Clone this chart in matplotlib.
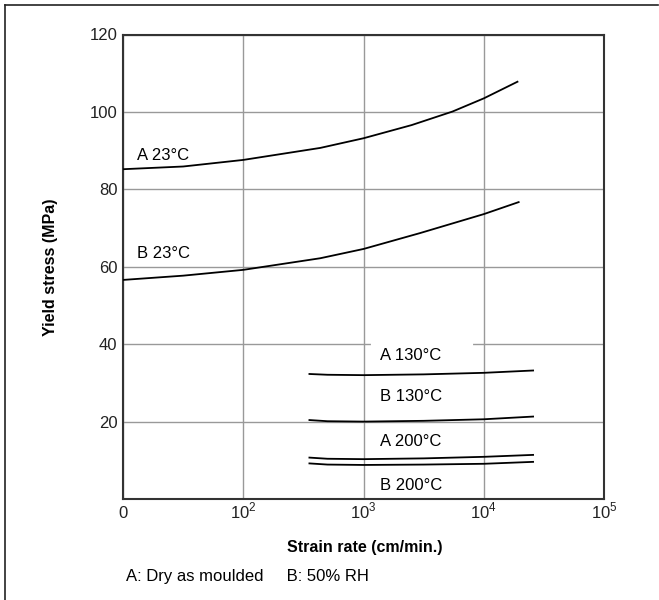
import matplotlib
matplotlib.use("Agg")
import matplotlib.pyplot as plt
from matplotlib.lines import Line2D

plt.rcParams['font.family'] = ['Liberation Sans', 'DejaVu Sans']
plt.rcParams['mathtext.fontset'] = 'custom'
plt.rcParams['mathtext.rm'] = 'Liberation Sans'

# x values are log10 of strain rate (the "0" tick sits at the 10^1 position)
x_a23 = [1.0, 1.5, 2.0, 2.64, 3.0, 3.4, 3.74, 4.0, 4.28]
a_23 = [85.2, 85.9, 87.6, 90.7, 93.2, 96.6, 100.1, 103.5, 107.8]
x_b23 = [1.0, 1.5, 2.0, 2.64, 3.0, 3.47, 4.0, 4.29]
b_23 = [56.6, 57.7, 59.2, 62.2, 64.6, 68.7, 73.6, 76.7]

x_hot = [2.55, 2.7, 3.0, 3.5, 4.0, 4.41]
a_130 = [32.3, 32.1, 32.0, 32.2, 32.6, 33.2]
b_130 = [20.4, 20.1, 20.0, 20.2, 20.6, 21.3]
a_200 = [10.7, 10.4, 10.3, 10.5, 10.9, 11.4]
b_200 = [9.2, 8.9, 8.8, 8.9, 9.1, 9.6]

x_ticks = [1, 2, 3, 4, 5]
x_tick_labels = ['0', '10$^{2}$', '10$^{3}$', '10$^{4}$', '10$^{5}$']
y_ticks = [20, 40, 60, 80, 100, 120]

fig = plt.figure(figsize=(6.59, 6), dpi=100)
ax = fig.add_axes([0.1867, 0.1683, 0.7299, 0.7742])

for xs, ys in [(x_a23, a_23), (x_b23, b_23), (x_hot, a_130),
               (x_hot, b_130), (x_hot, a_200), (x_hot, b_200)]:
    ax.plot(xs, ys, color='black', lw=1.3, zorder=3)

ax.set_xlim(1, 5)
ax.set_ylim(0, 120)
ax.set_xticks(x_ticks)
ax.set_xticklabels(x_tick_labels)
ax.set_yticks(y_ticks)
ax.tick_params(length=0, labelsize=12, colors='#222222')
ax.tick_params(axis='y', pad=4)
ax.tick_params(axis='x', pad=14)
for lab in ax.get_xticklabels():
    lab.set_verticalalignment('baseline')
ax.grid(True, color='#999999', lw=1.0)
ax.set_axisbelow(True)
for s in ax.spines.values():
    s.set_color('#333333')
    s.set_linewidth(1.5)

ax.set_ylabel('Yield stress (MPa)', fontweight='bold', fontsize=11.5)
ax.yaxis.set_label_coords(-0.135, 0.5)
ax.set_xlabel('Strain rate (cm/min.)', fontweight='bold', fontsize=11.5)
ax.xaxis.set_label_coords(0.502, -0.088)

label_kw = dict(fontsize=12, va='center', ha='left', zorder=4)
ax.text(1.12, 88.8, 'A 23°C', **label_kw)
ax.text(1.12, 63.3, 'B 23°C', **label_kw)
ax.text(3.137, 37.0, 'A 130°C', **label_kw)
ax.text(3.137, 26.4, 'B 130°C', **label_kw)
ax.text(3.137, 14.8, 'A 200°C', **label_kw)
ax.text(3.137, 3.6, 'B 200°C', **label_kw)
# white gap in the 40 MPa grid line above the "A 130°C" label
ax.plot([3.08, 3.89], [40, 40], color='white', lw=3, zorder=1.5)

fig.text(0.191, 0.04, 'A: Dry as moulded     B: 50% RH', fontsize=12,
         va='center', ha='left')

# outer frame (top and left edges only)
fig.add_artist(Line2D([0.0076, 0.998], [0.9917, 0.9917], color='#222222', lw=1.2))
fig.add_artist(Line2D([0.0076, 0.0076], [0.0, 0.9917], color='#222222', lw=1.2))

fig.savefig('out.png', dpi=100)
